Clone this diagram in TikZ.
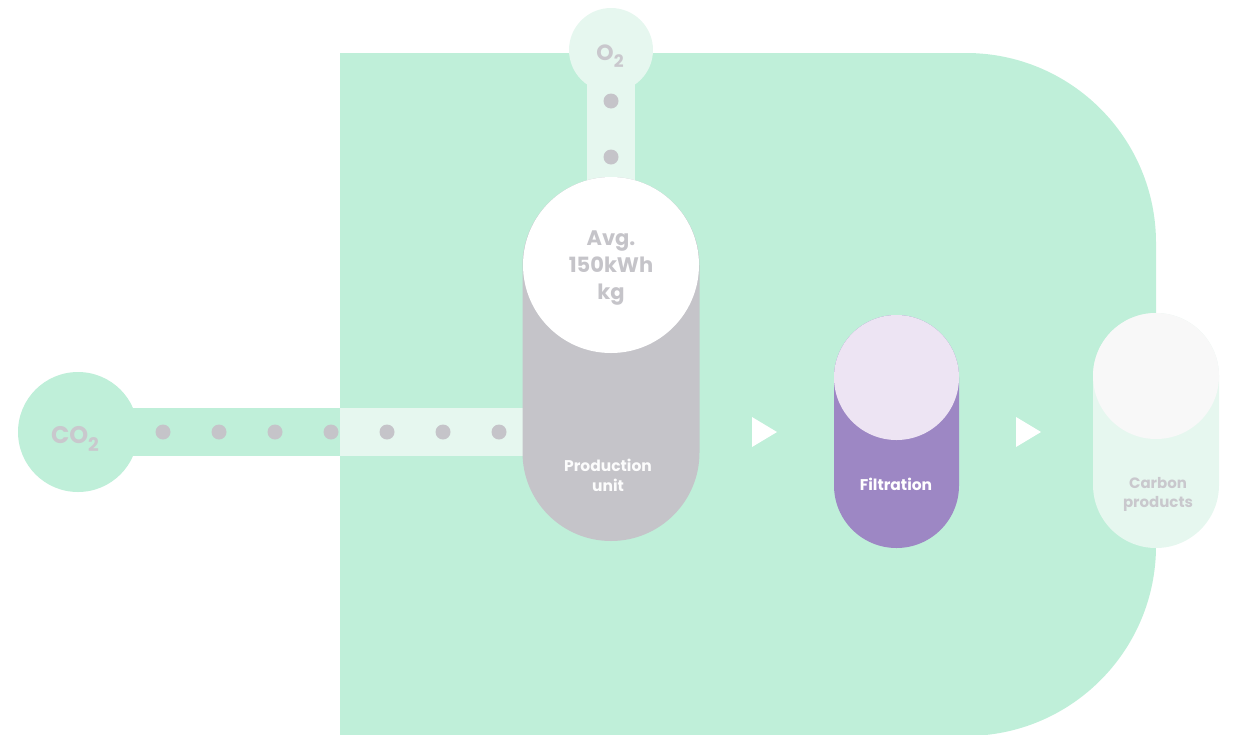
\documentclass[tikz,border=0pt]{standalone}
\usepackage{fontspec}
\setmainfont{Poppins}[BoldFont={Poppins Bold}]
\usetikzlibrary{positioning,backgrounds}

\newcommand{\chemsub}[1]{\raisebox{-0.3em}{\scalebox{0.78}{#1}}}

\begin{document}
\begin{tikzpicture}[x=1pt, y=-1pt,
    pill/.style={draw=none, rectangle, inner sep=0pt},
    disc/.style={draw=none, circle, inner sep=0pt},
    pipe/.style={line width=48pt, line cap=butt},
    dot/.style={draw=none, fill=dotgray},
    txt/.style={align=center, inner sep=0pt}]
  \useasboundingbox (0,0) rectangle (1233,734);

  \definecolor{bggreen}{RGB}{191,239,217}
  \definecolor{palegreen}{RGB}{230,247,239}
  \definecolor{dotgray}{RGB}{197,196,201}
  \definecolor{unitgray}{RGB}{197,196,201}
  \definecolor{filtpurple}{RGB}{157,135,196}
  \definecolor{filttop}{RGB}{237,228,243}
  \definecolor{prodtop}{RGB}{248,248,248}
  \definecolor{textgray}{RGB}{201,200,205}

  % First the inputs

  \node[disc, fill=bggreen, minimum size=120pt] (co2) at (78,432) {};
  \node[disc, fill=palegreen, minimum size=84pt] (o2) at (611,50) {};
  \coordinate (gate) at (340,432);

  % Then the three units

  \node[pill, fill=unitgray, minimum width=177pt, minimum height=364pt,
        rounded corners=88.5pt] (prod) at (611,359) {};
  \node[disc, fill=white, minimum size=176pt] (prodcap) at (611,265) {};

  \node[pill, fill=filtpurple, minimum width=125pt, minimum height=233pt,
        rounded corners=62.5pt] (filt) at (896.5,431.5) {};
  \node[disc, fill=filttop, minimum size=125pt] (filtcap) at (896.5,377.5) {};

  \node[pill, fill=palegreen, minimum width=126pt, minimum height=235pt,
        rounded corners=63pt] (carb) at (1156,430.5) {};
  \node[disc, fill=prodtop, minimum size=126pt] (carbcap) at (1156,376) {};

  % Background and pipes go under everything

  \begin{scope}[on background layer]
    \begin{scope}
      \clip (340,0) rectangle (1233,734);
      \fill[bggreen, rounded corners=190pt] (150,53) rectangle (1156,736);
    \end{scope}
    \draw[pipe, bggreen] (co2.center) -- (gate);
    \draw[pipe, palegreen] (gate) -- (gate -| prod);
    \draw[pipe, palegreen] (o2.center) -- (prodcap.center);
  \end{scope}

  % Dots along the pipes

  \pgfmathsetmacro{\dotRadius}{7.5}
  \foreach \x in {163,219,...,499}{
    \fill[dot] (\x,432) circle (\dotRadius pt);
  }
  \foreach \y in {101,157}{
    \fill[dot] (611,\y) circle (\dotRadius pt);
  }

  % Arrows between the units

  \foreach \ax in {752,1016}{
    \fill[white] (\ax,417) -- ++(25,15) -- ++(-25,15) -- cycle;
  }

  % Texts

  \node[txt, text=textgray, font=\fontsize{24}{28}\selectfont\bfseries]
    (co2text) at (75,439) {CO\chemsub{2}};
  \node[txt, text=textgray, font=\fontsize{22}{24}\selectfont\bfseries]
    (o2text) at (610,56) {O\chemsub{2}};
  \node[txt, text=unitgray, font=\fontsize{21}{27}\selectfont\bfseries]
    (avgtext) at (611,268) {Avg.\\150kWh\\kg};
  \node[txt, text=white!95!unitgray, font=\fontsize{15.5}{20}\selectfont\bfseries]
    (prodtext) at (608,475) {Production\\unit};
  \node[txt, text=white, font=\fontsize{15.5}{20}\selectfont\bfseries]
    (filttext) at (896,484) {Filtration};
  \node[txt, text=textgray, font=\fontsize{15}{19}\selectfont\bfseries]
    (carbtext) at (1158,494) {Carbon\\products};
\end{tikzpicture}
\end{document}
